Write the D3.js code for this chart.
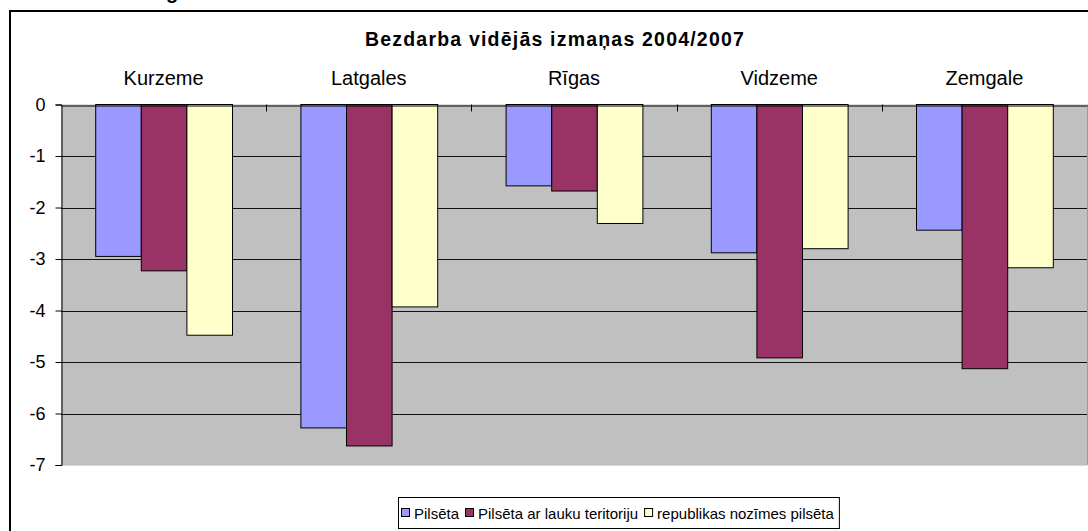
<!DOCTYPE html>
<html>
<head>
<meta charset="utf-8">
<script src="https://cdn.jsdelivr.net/npm/d3@7/dist/d3.min.js"></script>
<style>
  html, body { margin: 0; padding: 0; background: #fff; }
  svg { display: block; font-family: "Liberation Sans", Arial, sans-serif; }
</style>
</head>
<body>
<svg id="chart" width="1088" height="531"></svg>
<script>
const title = "Bezdarba vidējās izmaņas 2004/2007";
const categories = ["Kurzeme", "Latgales", "Rīgas", "Vidzeme", "Zemgale"];
const seriesNames = ["Pilsēta", "Pilsēta ar lauku teritoriju", "republikas nozīmes pilsēta"];
const pilseta = [-2.95, -6.28, -1.58, -2.88, -2.44];
const pilsetaLauku = [-3.23, -6.63, -1.68, -4.92, -5.13];
const republikas = [-4.48, -3.93, -2.31, -2.80, -3.17];
const yTicks = [0, -1, -2, -3, -4, -5, -6, -7];
const colors = ["#9999FF", "#993366", "#FFFFCC"];

const seriesValues = [pilseta, pilsetaLauku, republikas];

const svg = d3.select("#chart");

// outer chart border
svg.append("rect").attr("x", 10).attr("y", 11).attr("width", 1200).attr("height", 600)
  .attr("fill", "#fff").attr("stroke", "#000").attr("stroke-width", 2);

// clipped fragment of text above the chart
svg.append("text").attr("x", 172).attr("y", -1).attr("text-anchor", "middle")
  .attr("font-size", 20).attr("font-weight", "bold").text("g");

const plot = { left: 61, right: 1087, top: 104.5, bottom: 465 };

const x0 = d3.scaleBand().domain(categories).range([plot.left, plot.right]).paddingInner(0).paddingOuter(0);
const x1 = d3.scaleBand().domain(d3.range(seriesNames.length)).range([0, x0.bandwidth()])
  .paddingInner(0).paddingOuter(0.75);
const y = d3.scaleLinear().domain([-7, 0]).range([plot.bottom, plot.top]);

// plot background
svg.append("rect").attr("x", plot.left).attr("y", plot.top)
  .attr("width", plot.right - plot.left).attr("height", plot.bottom - plot.top)
  .attr("fill", "#C0C0C0");
svg.append("line").attr("x1", plot.left).attr("x2", plot.right)
  .attr("y1", plot.bottom + 0.5).attr("y2", plot.bottom + 0.5).attr("stroke", "#d8d8d8");
svg.append("line").attr("x1", plot.right + 0.5).attr("x2", plot.right + 0.5)
  .attr("y1", plot.top).attr("y2", plot.bottom).attr("stroke", "#999");

// gridlines
svg.append("g").selectAll("line").data(yTicks.filter(d => d < 0 && d > -7)).join("line")
  .attr("x1", plot.left).attr("x2", plot.right)
  .attr("y1", d => Math.round(y(d)) + 0.5).attr("y2", d => Math.round(y(d)) + 0.5)
  .attr("stroke", "#111").attr("stroke-width", 1);

// bars
const rows = [];
categories.forEach((c, i) => seriesValues.forEach((vals, s) => rows.push({ c, s, v: vals[i] })));
svg.append("g").selectAll("rect").data(rows).join("rect")
  .attr("x", d => x0(d.c) + x1(d.s) + 0.5)
  .attr("y", d => y(0))
  .attr("width", x1.bandwidth())
  .attr("height", d => y(d.v) - y(0))
  .attr("fill", d => colors[d.s])
  .attr("stroke", "#000").attr("stroke-width", 1);

// y axis
const yAxis = d3.axisLeft(y).tickValues(yTicks).tickSize(6).tickPadding(10).tickFormat(d3.format("d"));
const gy = svg.append("g").attr("transform", `translate(${plot.left + 0.5},0)`).call(yAxis);
gy.select(".domain").attr("stroke", "#000");
gy.selectAll(".tick line").attr("stroke", "#000");
gy.selectAll(".tick text").attr("font-size", 18).attr("font-family", "Liberation Sans, Arial, sans-serif").attr("fill", "#000")
  .text(d => d === 0 ? "0" : "-" + Math.abs(d));

// category axis at y = 0 (labels above)
const xAxis = d3.axisTop(x0).tickSize(0).tickPadding(21);
const gx = svg.append("g").attr("transform", `translate(0,${Math.round(y(0)) + 0.5})`).call(xAxis);
gx.select(".domain").attr("stroke", "#000");
gx.selectAll(".tick text").attr("font-size", 20).attr("font-family", "Liberation Sans, Arial, sans-serif").attr("fill", "#000");
// boundary tick marks pointing down
svg.append("g").selectAll("line").data(categories.slice(1)).join("line")
  .attr("x1", d => Math.round(x0(d)) + 0.5).attr("x2", d => Math.round(x0(d)) + 0.5)
  .attr("y1", y(0)).attr("y2", y(0) + 7).attr("stroke", "#000");

// title
svg.append("text").attr("x", 555).attr("y", 46).attr("text-anchor", "middle")
  .attr("font-size", 19.5).attr("font-weight", "bold").attr("letter-spacing", 1.2).text(title);

// legend
const legend = svg.append("g");
const lgFont = 15;
let lx = 398 + 3;
const ly = 513;
seriesNames.forEach((name, i) => {
  legend.append("rect").attr("x", lx + 0.5).attr("y", ly - 4.5).attr("width", 8).attr("height", 8)
    .attr("fill", colors[i]).attr("stroke", "#000");
  const t = legend.append("text").attr("x", lx + 13).attr("y", ly + 5.5)
    .attr("font-size", lgFont).text(name);
  lx += 13 + t.node().getComputedTextLength() + 6;
});
legend.insert("rect", ":first-child").attr("x", 398.5).attr("y", 497.5)
  .attr("width", lx - 398 - 1).attr("height", 31).attr("fill", "#fff").attr("stroke", "#000");
</script>
</body>
</html>
